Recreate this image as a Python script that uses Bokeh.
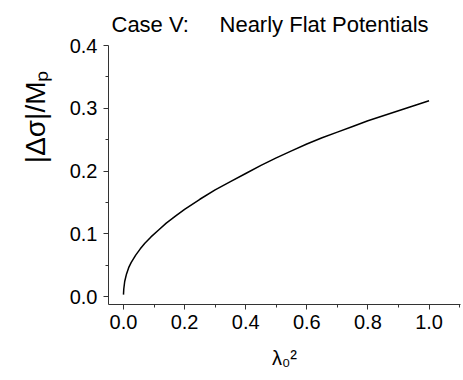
from bokeh.plotting import figure
from bokeh.models import FixedTicker, Range1d, Title
from bokeh.embed import file_html
from bokeh.resources import INLINE

# data
lambda0_sq = [0.0, 0.001, 0.004, 0.01, 0.017, 0.025, 0.04, 0.055, 0.07, 0.09, 0.115, 0.14, 0.17, 0.2,
              0.25, 0.3, 0.35, 0.4, 0.45, 0.5, 0.55, 0.6, 0.65, 0.7, 0.75, 0.8, 0.85, 0.9, 0.95, 1.0]
delta_sigma = [0.003, 0.012, 0.024, 0.036, 0.046, 0.054, 0.066, 0.076, 0.085, 0.095, 0.106, 0.117, 0.128, 0.139,
               0.155, 0.170, 0.183, 0.196, 0.209, 0.221, 0.232, 0.243, 0.253, 0.262, 0.271, 0.280, 0.288, 0.296, 0.304, 0.312]

x_ticks = [0.0, 0.2, 0.4, 0.6, 0.8, 1.0]
x_tick_labels = ["0.0", "0.2", "0.4", "0.6", "0.8", "1.0"]
x_minor = [0.1, 0.3, 0.5, 0.7, 0.9, 1.1]
y_ticks = [0.0, 0.1, 0.2, 0.3, 0.4]
y_tick_labels = ["0.0", "0.1", "0.2", "0.3", "0.4"]
y_minor = [0.05, 0.15, 0.25, 0.35]

title_text = "Case V:\u00a0\u00a0\u00a0\u00a0\u00a0Nearly Flat Potentials"
y_label = "|Δσ|/M\u209a"
x_label = "λ\u2080\u00b2"

FONT = "Liberation Sans"
AX = "#333333"

p = figure(width=463, height=380, output_backend="svg", toolbar_location=None,
           x_range=Range1d(-0.049, 1.103), y_range=Range1d(-0.0127, 0.4),
           min_border_left=108, min_border_right=3, min_border_top=45, min_border_bottom=76)
p.outline_line_color = None
p.xgrid.visible = False
p.ygrid.visible = False
p.background_fill_color = "white"
p.border_fill_color = "white"

p.line(lambda0_sq, delta_sigma, line_color="black", line_width=1.5)

p.xaxis.ticker = FixedTicker(ticks=x_ticks, minor_ticks=x_minor)
p.yaxis.ticker = FixedTicker(ticks=y_ticks, minor_ticks=y_minor)
p.xaxis.major_label_overrides = {t: l for t, l in zip(x_ticks, x_tick_labels)}
p.yaxis.major_label_overrides = {t: l for t, l in zip(y_ticks, y_tick_labels)}

for ax in (p.xaxis[0], p.yaxis[0]):
    ax.axis_line_color = AX
    ax.major_tick_line_color = AX
    ax.minor_tick_line_color = AX
    ax.major_tick_out = 5
    ax.major_tick_in = 0
    ax.minor_tick_out = 3
    ax.minor_tick_in = 0
    ax.major_label_text_font = FONT
    ax.major_label_text_font_size = "20px"
    ax.major_label_text_color = "black"
p.xaxis.major_label_standoff = 5
p.yaxis.major_label_standoff = 6

p.xaxis.axis_label = x_label
p.xaxis.axis_label_text_font = FONT
p.xaxis.axis_label_text_font_size = "20px"
p.xaxis.axis_label_text_font_style = "normal"
p.xaxis.axis_label_text_color = "black"
p.xaxis.axis_label_standoff = 15

p.title.text = title_text
p.title.align = "left"
p.title.offset = 3
p.title.text_font = FONT
p.title.text_font_size = "22px"
p.title.text_font_style = "normal"
p.title.text_color = "black"
p.title.standoff = 17

p.add_layout(Title(text=y_label, align="right", offset=25, standoff=31,
                   text_font=FONT, text_font_size="28px", text_font_style="normal",
                   text_color="black"), "left")

open("out.html", "w").write(file_html(p, INLINE))
